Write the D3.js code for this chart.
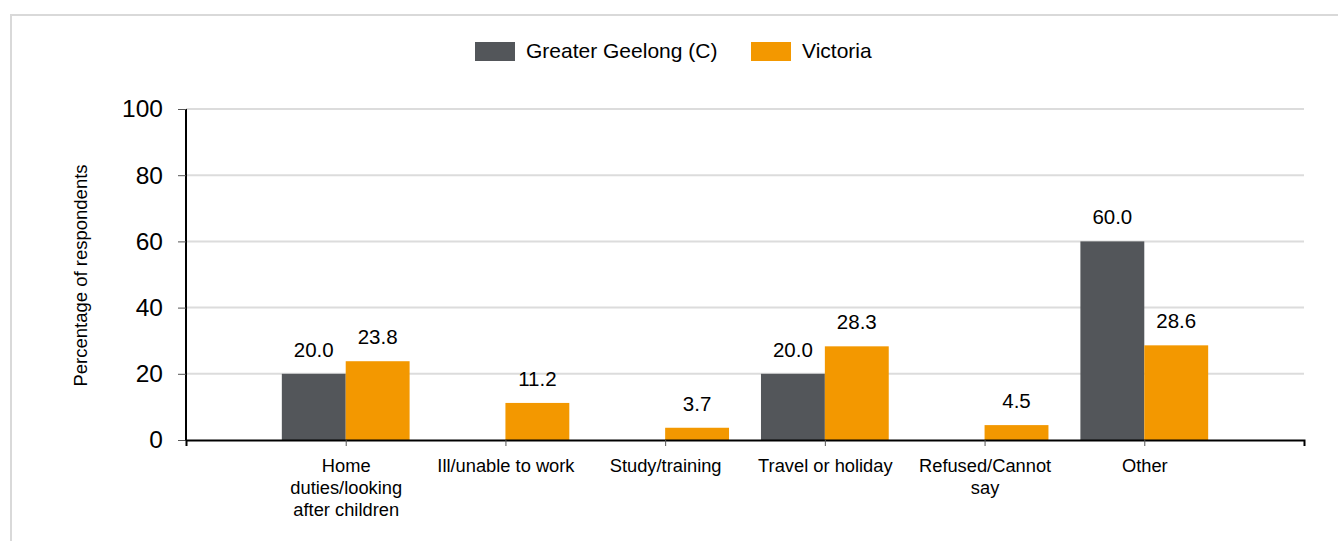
<!DOCTYPE html>
<html>
<head>
<meta charset="utf-8">
<script src="https://cdn.jsdelivr.net/npm/d3@7"></script>
<style>
  body { margin: 0; background: #fff; }
  svg { display: block; font-family: "Liberation Sans", Arial, sans-serif; }
</style>
</head>
<body>
<svg id="chart" width="1338" height="541"></svg>
<script>
// chart data
var categories = ["Home duties/looking after children", "Ill/unable to work", "Study/training",
                  "Travel or holiday", "Refused/Cannot say", "Other"];
var seriesNames = ["Greater Geelong (C)", "Victoria"];
var geelongValues = [20.0, null, null, 20.0, null, 60.0];
var victoriaValues = [23.8, 11.2, 3.7, 28.3, 4.5, 28.6];
var yTicks = [0, 20, 40, 60, 80, 100];

var colors = ["#53565a", "#f39800"];

var svg = d3.select("#chart");
var margin = {left: 186, right: 34, top: 109, bottom: 101};
var width = 1338 - margin.left - margin.right;
var height = 541 - margin.top - margin.bottom;

// outer frame
svg.append("rect")
    .attr("x", 11).attr("y", 15)
    .attr("width", 1340).attr("height", 540)
    .attr("fill", "none")
    .attr("stroke", "#d9d9d9")
    .attr("stroke-width", 2);

var g = svg.append("g").attr("transform", "translate(" + margin.left + "," + margin.top + ")");

var x = d3.scalePoint().domain(categories).range([0, width]).padding(1);
var barW = x.step() * 0.4;
var y = d3.scaleLinear().domain([0, 100]).range([height, 0]);

// gridlines
g.append("g").selectAll("line")
    .data(yTicks.filter(function (d) { return d > 0; }))
    .join("line")
    .attr("x1", 0).attr("x2", width)
    .attr("y1", function (d) { return y(d); })
    .attr("y2", function (d) { return y(d); })
    .attr("stroke", "#dcdcdc")
    .attr("stroke-width", 2);

// bars
var series = [geelongValues, victoriaValues];
series.forEach(function (vals, si) {
    var rows = categories.map(function (c, i) { return {cat: c, v: vals[i]}; })
        .filter(function (d) { return d.v != null; });
    var off = si === 0 ? -barW : 0;

    g.append("g").selectAll("rect")
        .data(rows)
        .join("rect")
        .attr("x", function (d) { return x(d.cat) + off; })
        .attr("y", function (d) { return y(d.v); })
        .attr("width", barW)
        .attr("height", function (d) { return height - y(d.v); })
        .attr("fill", colors[si]);

    g.append("g").selectAll("text")
        .data(rows)
        .join("text")
        .attr("x", function (d) { return x(d.cat) + off + barW / 2; })
        .attr("y", function (d) { return y(d.v) - 17; })
        .attr("text-anchor", "middle")
        .attr("font-size", 20.5)
        .attr("fill", "#000")
        .text(function (d) { return d.v.toFixed(1); });
});

// y axis
var yAxis = g.append("g")
    .call(d3.axisLeft(y).tickValues(yTicks).tickSize(8).tickPadding(15));
yAxis.select(".domain").attr("stroke", "#000").attr("stroke-width", 2).attr("d", "M0," + height + "V0");
yAxis.selectAll(".tick line").attr("stroke", "#555");
yAxis.selectAll(".tick text").attr("font-size", 24.5).attr("fill", "#000")
    .attr("font-family", "Liberation Sans, Arial, sans-serif");

// x axis
var xAxis = g.append("g")
    .attr("transform", "translate(0," + height + ")")
    .call(d3.axisBottom(x).tickSize(6).tickPadding(13).tickSizeOuter(6));
xAxis.select(".domain").attr("stroke", "#000").attr("stroke-width", 2);
xAxis.selectAll(".tick line").attr("stroke", "#555");
xAxis.selectAll(".tick text")
    .attr("font-size", 18.3)
    .attr("fill", "#000")
    .attr("font-family", "Liberation Sans, Arial, sans-serif")
    .call(wrap, 152);

function wrap(texts, maxW) {
    texts.each(function () {
        var t = d3.select(this);
        var words = t.text().split(/\s+/);
        var yy = t.attr("y");
        var dy = parseFloat(t.attr("dy"));
        t.text(null);
        var line = [];
        var lineNo = 0;
        var tspan = t.append("tspan").attr("x", 0).attr("y", yy).attr("dy", dy + "em");
        words.forEach(function (w) {
            line.push(w);
            tspan.text(line.join(" "));
            if (tspan.node().getComputedTextLength() > maxW && line.length > 1) {
                line.pop();
                tspan.text(line.join(" "));
                line = [w];
                lineNo++;
                tspan = t.append("tspan").attr("x", 0).attr("y", yy)
                    .attr("dy", (dy + lineNo * 1.2) + "em").text(w);
            }
        });
    });
}

// y axis title
svg.append("text")
    .attr("transform", "translate(87," + (margin.top + height / 2 + 1) + ") rotate(-90)")
    .attr("text-anchor", "middle")
    .attr("font-size", 18.5)
    .attr("fill", "#000")
    .text("Percentage of respondents");

// legend
var legendX = [475, 751];
var legend = svg.append("g");
seriesNames.forEach(function (name, i) {
    legend.append("rect")
        .attr("x", legendX[i]).attr("y", 42)
        .attr("width", 40).attr("height", 19)
        .attr("fill", colors[i]);
    legend.append("text")
        .attr("x", legendX[i] + 51).attr("y", 58)
        .attr("font-size", 21)
        .attr("fill", "#000")
        .text(name);
});
</script>
</body>
</html>
